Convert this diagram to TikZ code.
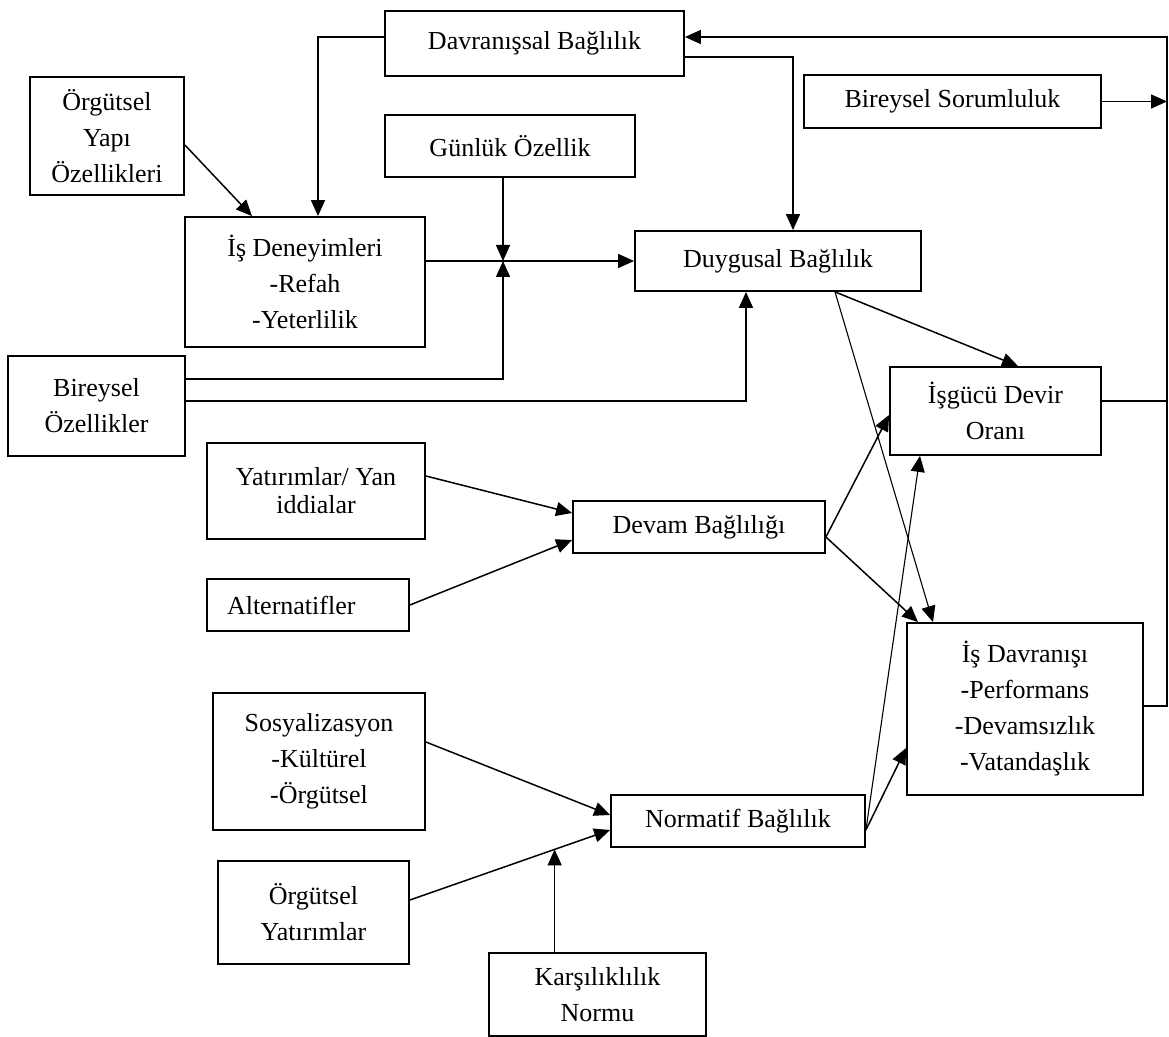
\documentclass[tikz,border=0pt]{standalone}
\usepackage{fontspec}
\setmainfont{Liberation Serif}
\usetikzlibrary{arrows.meta,calc}
\tikzset{>={Triangle[length=8pt,width=7pt]}}
\definecolor{Ink}{HTML}{000000}
\newcommand{\boxfont}{\fontsize{13}{18}\selectfont}
\newcommand{\tightfont}{\fontsize{13}{14}\selectfont}

\begin{document}
\begin{tikzpicture}[x=0.5pt,y=-0.5pt,
  box/.style 2 args={draw=Ink, line width=0.9pt, minimum width=#1, minimum height=#2,
    inner sep=0pt, align=center, font=\boxfont, text=Ink},
  link/.style={draw=Ink, line width=0.75pt},
  thinlink/.style={draw=Ink, line width=0.55pt}]
  \useasboundingbox (0,0) rectangle (1169,1037);

  %% upper part
  \node[box={149.5pt}{32.5pt}] (davr) at (534.5,43.5) {Davranışsal Bağlılık};
  \node[box={77pt}{59pt}] (orgyapi) at (107,136) {Örgütsel\\Yapı\\Özellikleri};
  \node[box={125pt}{31pt}] (gunluk) at (510,146) {Günlük Özellik};
  \node[box={148.5pt}{26.5pt}] (bsorum) at (952.5,101.5) {Bireysel Sorumluluk};
  \node[box={120pt}{65pt}] (isdeney) at (305,282) {İş Deneyimleri\\-Refah\\-Yeterlilik};
  \node[box={143pt}{30pt}] (duygu) at (778,261) {Duygusal Bağlılık};
  \node[box={88.5pt}{50pt}] (bozel) at (96.5,406) {Bireysel\\Özellikler};
  \node[box={105.5pt}{44pt}] (isgucu) at (995.5,411) {İşgücü Devir\\Oranı};

  %% middle part
  \node[box={109pt}{48pt}, font=\tightfont] (yatirim) at (316,491) {Yatırımlar/ Yan\\iddialar};
  \node[box={101pt}{26pt}, inner xsep=10pt, text width=81pt, align=left] (altern) at (308,605) {Alternatifler};
  \node[box={126pt}{26pt}] (devam) at (699,527) {Devam Bağlılığı};
  \node[box={118pt}{86pt}] (isdavr) at (1025,709) {İş Davranışı\\-Performans\\-Devamsızlık\\-Vatandaşlık};

  %% lower part
  \node[box={106pt}{68.5pt}] (sosyal) at (319,761.5) {Sosyalizasyon\\-Kültürel\\-Örgütsel};
  \node[box={127pt}{26pt}] (normatif) at (738,821) {Normatif Bağlılık};
  \node[box={95.5pt}{51.5pt}] (orgyat) at (313.5,912.5) {Örgütsel\\Yatırımlar};
  \node[box={108.5pt}{41.5pt}] (karsi) at (597.5,994.5) {Karşılıklılık\\Normu};

  %% helper points
  \coordinate (rtop) at (1167,37);
  \coordinate (jn) at ([xshift=-3.5pt]gunluk.south |- duygu.west);
  \coordinate (kj) at ($([yshift=6.25pt]orgyat.east)!0.723!([yshift=-4.5pt]normatif.west)$);

  %% arrows towards Duygusal Bağlılık
  \draw[link,->] ([yshift=3.25pt]davr.west) -| ([xshift=6.5pt]isdeney.north);
  \draw[link,->] ([yshift=-4.5pt]orgyapi.east) -- ([xshift=-26.5pt]isdeney.north);
  \draw[link,->] (isdeney.east |- duygu.west) -- (duygu.west);
  \draw[link,->] ([xshift=-3.5pt]gunluk.south) -- (jn);
  \draw[link,->] ([yshift=13.5pt]bozel.east) -| (jn);
  \draw[link,->] ([yshift=2.5pt]bozel.east) -| ([xshift=-16pt]duygu.south);
  \draw[link,->] ([yshift=-6.75pt]davr.east) -| ([xshift=7.5pt]duygu.north);

  %% feedback on the right
  \draw[link,->] ([yshift=1.5pt]isdavr.east) -| (rtop) -- ([yshift=3.25pt]davr.east);
  \draw[link] ([yshift=5pt]isgucu.east) -- ([yshift=5pt]isgucu.east -| rtop);
  \draw[link,->] (bsorum.east) -- (bsorum.east -| rtop);

  %% outcomes
  \draw[link,->] ([xshift=28.5pt]duygu.south) -- ([xshift=11.25pt]isgucu.north);
  \draw[thinlink,->] ([xshift=28.5pt]duygu.south) -- ([xshift=-46pt]isdavr.north);
  \draw[link,->] ([yshift=-5pt]devam.east) -- ([yshift=-2pt]isgucu.west);
  \draw[link,->] ([yshift=-5pt]devam.east) -- ([xshift=-53.5pt]isdavr.north);
  \draw[thinlink,->] ([yshift=-4.5pt]normatif.east) -- ([xshift=-37.75pt]isgucu.south);
  \draw[link,->] ([yshift=-4.5pt]normatif.east) -- ([yshift=-19.5pt]isdavr.west);

  %% antecedents of Devam and Normatif
  \draw[link,->] ([yshift=7.5pt]yatirim.east) -- ([yshift=7pt]devam.west);
  \draw[link,->] (altern.east) -- ([yshift=-6.5pt]devam.west);
  \draw[link,->] ([yshift=9.75pt]sosyal.east) -- ([yshift=3pt]normatif.west);
  \draw[link,->] ([yshift=6.25pt]orgyat.east) -- ([yshift=-4.5pt]normatif.west);
  \draw[link,->] (karsi.north -| kj) -- (kj);
\end{tikzpicture}
\end{document}
